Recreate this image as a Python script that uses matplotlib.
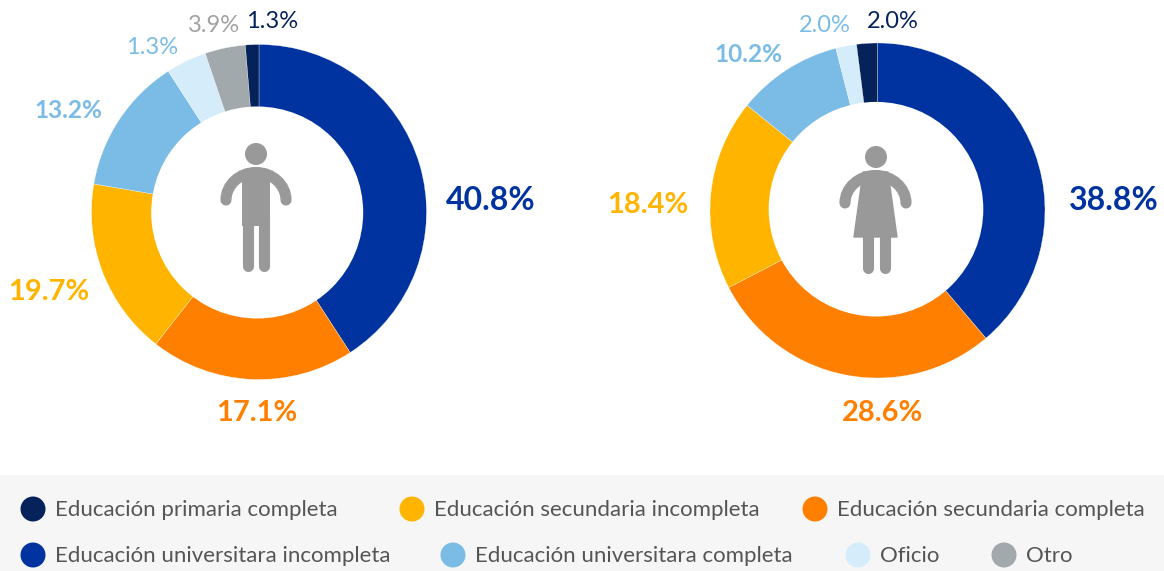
import matplotlib
matplotlib.use("Agg")
import matplotlib.pyplot as plt
from matplotlib.patches import Circle, PathPatch, Rectangle
from matplotlib.path import Path

plt.rcParams['font.family'] = ['Lato', 'DejaVu Sans']

W = 1164
H = 571

NAVY = '#05235a'
BLUE = '#0033a0'
ORANGE = '#ff8000'
YELLOW = '#ffb500'
LIGHT = '#7bbce6'
PALE = '#d5ecfb'
GREY = '#a2a9ad'
ICON = '#999999'

# slices as drawn, clockwise from the top
men_values = [40.8, 19.7, 17.1, 13.2, 3.9, 3.9, 1.3]
men_colors = [BLUE, ORANGE, YELLOW, LIGHT, PALE, GREY, NAVY]
women_values = [38.8, 28.6, 18.4, 10.2, 2.0, 2.0]
women_colors = [BLUE, ORANGE, YELLOW, LIGHT, PALE, NAVY]

# text, x, y, colour, size, bold
men_labels = [
    ('40.8%', 490.5, 200, BLUE, 23, True),
    ('17.1%', 256.5, 413, ORANGE, 20.9, True),
    ('19.7%', 49, 292, YELLOW, 20.9, True),
    ('13.2%', 68.5, 111, LIGHT, 17.6, True),
    ('1.3%', 152.5, 47, LIGHT, 17, False),
    ('3.9%', 213.5, 26, '#a2a2a2', 17, False),
    ('1.3%', 272.5, 21, NAVY, 17, False),
]
women_labels = [
    ('38.8%', 1114, 200, BLUE, 23, True),
    ('28.6%', 882.5, 413, ORANGE, 20.9, True),
    ('18.4%', 647.5, 205, YELLOW, 20.9, True),
    ('10.2%', 748.5, 54, LIGHT, 17.6, True),
    ('2.0%', 824.5, 26, LIGHT, 17, False),
    ('2.0%', 893, 21, NAVY, 17, False),
]

legend_names = ['Educación primaria completa', 'Educación secundaria incompleta',
                'Educación secundaria completa', 'Educación universitara incompleta',
                'Educación universitara completa', 'Oficio', 'Otro']
legend_colors = [NAVY, YELLOW, ORANGE, BLUE, LIGHT, PALE, GREY]
legend_dots = [(33, 509), (412, 509), (815, 509), (33, 555), (453, 555), (858, 555), (1004, 555)]


def flip(y):
    return H - y


def arms(ax, lx, rx, cx, top, hand):
    # bent arms drawn as one thick round line
    dy = 0.55 * (hand - top)
    dx = 0.55 * (cx - lx)
    verts = [(lx, flip(hand)), (lx, flip(hand - dy)), (cx - dx, flip(top)), (cx, flip(top)),
             (cx + dx, flip(top)), (rx, flip(hand - dy)), (rx, flip(hand))]
    codes = [Path.MOVETO, Path.CURVE4, Path.CURVE4, Path.CURVE4, Path.CURVE4, Path.CURVE4, Path.CURVE4]
    ax.add_patch(PathPatch(Path(verts, codes), fc='none', ec=ICON, lw=8.0, capstyle='round', zorder=4))


def leg(ax, x, y0, y1):
    ax.plot([x, x], [flip(y0), flip(y1)], color=ICON, lw=8.0, solid_capstyle='round', zorder=4)


def donut(ax, values, colors, cx, cy, r, hole_x, hole_y, hole_r):
    ax.pie(values, colors=colors, startangle=90, counterclock=False, center=(cx, flip(cy)), radius=r,
           wedgeprops={'width': r - 90, 'edgecolor': 'white', 'linewidth': 0.2})
    # the hole sits slightly off centre in the original
    ax.add_patch(Circle((hole_x, flip(hole_y)), hole_r, fc='white', ec='none', zorder=3))


fig = plt.figure(figsize=(W / 100, H / 100), dpi=100)
ax = fig.add_axes([0, 0, 1, 1])

ax.add_patch(Rectangle((0, 0), W, H - 475, fc='#f6f6f6', ec='none'))

donut(ax, men_values, men_colors, 259, 212, 167.5, 257.2, 212.5, 106)
donut(ax, women_values, women_colors, 877.5, 210.5, 167.5, 876, 209.2, 107.3)

for text, x, y, color, size, bold in men_labels + women_labels:
    ax.text(x, flip(y), text, color=color, ha='center', va='center',
            fontsize=size, fontweight='bold' if bold else 'normal')

# man
ax.add_patch(Circle((256, flip(154)), 11, fc=ICON, ec='none', zorder=4))
arms(ax, 226, 286, 256, 172.5, 200)
ax.add_patch(Rectangle((242, flip(226)), 27.5, 54, fc=ICON, ec='none', zorder=4))
leg(ax, 247.5, 215, 265.5)
leg(ax, 264, 215, 265.5)

# woman
ax.add_patch(Circle((876, flip(157)), 11, fc=ICON, ec='none', zorder=4))
arms(ax, 845, 906, 875.5, 175.5, 203)
ax.add_patch(PathPatch(Path([(863, flip(172)), (888, flip(172)), (897, flip(237)), (854, flip(237)), (863, flip(172))],
                            closed=True), fc=ICON, ec=ICON, lw=1, joinstyle='round', zorder=4))
leg(ax, 867.5, 230, 267.5)
leg(ax, 884.5, 230, 267.5)

for name, color, (x, y) in zip(legend_names, legend_colors, legend_dots):
    ax.add_patch(Circle((x, flip(y)), 12.5, fc=color, ec='none'))
    ax.text(x + 22, flip(y) - 1.5, name, color='#555555', ha='left', va='center', fontsize=16)

ax.set_xlim(0, W)
ax.set_ylim(0, H)
ax.set_aspect('equal')
ax.axis('off')

fig.savefig('out.png', dpi=100)
